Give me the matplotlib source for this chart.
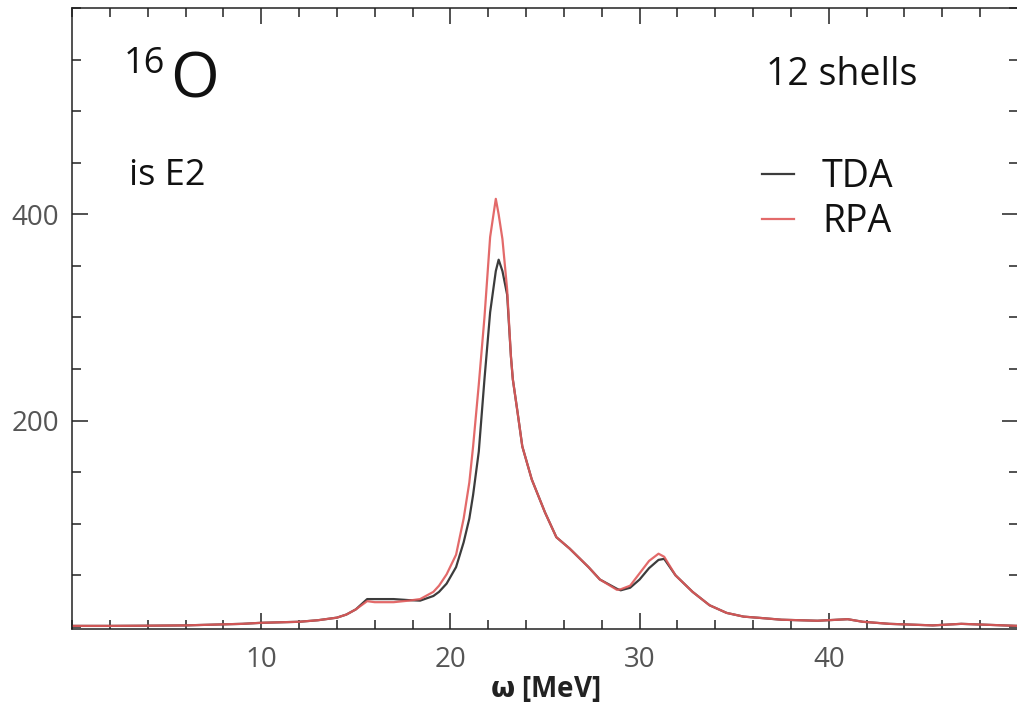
import numpy as np
import matplotlib.pyplot as plt
from matplotlib.ticker import MultipleLocator

plt.rcParams['font.family'] = ['Open Sans', 'DejaVu Sans']

# strength function of the isoscalar E2 response, 16O, 12 oscillator shells
omega = [0.0, 2.0, 4.0, 6.0, 7.0, 8.0, 9.0, 10.0, 11.0, 12.0, 13.0, 14.0,
         14.5, 15.0, 15.6, 16.0, 17.0, 17.8, 18.4, 19.1, 19.4, 19.8, 20.3,
         20.7, 21.0, 21.2, 21.5, 21.8, 22.1, 22.4, 22.55, 22.75, 23.0, 23.2,
         23.3, 23.55, 23.8, 24.3, 25.0, 25.6, 26.3, 27.3, 27.9, 28.8, 29.0,
         29.5, 30.0, 30.5, 31.0, 31.3, 31.9, 32.8, 33.7, 34.6, 35.5, 36.4,
         37.5, 39.4, 41.0, 41.8, 43.2, 45.5, 47.0, 50.0]
tda = [1.0, 1.0, 1.2, 1.5, 2.0, 2.5, 3.0, 4.0, 4.5, 5.0, 6.5, 9.0,
       12.0, 17.0, 27.0, 27.0, 27.0, 26.0, 25.5, 30.0, 34.0, 42.0, 58.0,
       82.0, 105.0, 128.0, 170.0, 240.0, 305.0, 345.0, 356.0, 345.0, 322.0, 262.0,
       240.0, 208.0, 175.0, 143.0, 111.0, 87.0, 76.0, 58.0, 46.0, 37.0, 35.5,
       38.0, 46.0, 57.0, 65.0, 66.0, 50.0, 34.0, 21.0, 13.6, 10.0, 8.7,
       7.0, 6.0, 7.5, 5.0, 3.0, 1.5, 3.0, 1.0]
rpa = [1.0, 1.0, 1.2, 1.5, 2.0, 2.5, 3.0, 4.0, 4.5, 5.0, 6.5, 9.0,
       12.0, 17.0, 25.0, 24.0, 24.0, 25.5, 27.0, 34.0, 40.0, 51.0, 70.0,
       105.0, 140.0, 175.0, 235.0, 300.0, 378.0, 415.0, 400.0, 376.0, 327.0, 262.0,
       240.0, 208.0, 175.0, 143.0, 111.0, 87.0, 76.0, 58.0, 46.0, 36.0, 36.5,
       40.0, 52.0, 64.0, 71.0, 68.0, 50.0, 34.0, 21.0, 13.6, 10.0, 8.7,
       7.0, 6.0, 7.5, 5.0, 3.0, 1.5, 3.0, 1.0]

W, H = 1017, 708
fig = plt.figure(figsize=(W / 100, H / 100), dpi=100)
ax = fig.add_axes([72 / W, 1 - 629 / H, (1018 - 72) / W, (629 - 8) / H])

ax.plot(omega, tda, color='#3c3c3c', lw=1.6, label='TDA')
ax.plot(omega, rpa, color='#e05a5a', lw=1.6, alpha=0.9, label='RPA')

ax.set_xlim(0, 50)
ax.set_ylim(-2, 600)
ax.xaxis.set_minor_locator(MultipleLocator(2))
ax.yaxis.set_minor_locator(MultipleLocator(50))
ax.set_yticks([200, 400])
ax.set_xticks([10, 20, 30, 40])

ax.tick_params(which='both', direction='in', top=True, right=True,
               width=1.1, color='#222222')
ax.tick_params(which='major', length=11.5, labelsize=20,
               labelcolor='#555555')
ax.tick_params(which='minor', length=6.5)
ax.tick_params(axis='x', which='major', pad=12)
ax.tick_params(axis='y', which='major', pad=9)
for side in ('left', 'bottom', 'top'):
    ax.spines[side].set_linewidth(1.1)
    ax.spines[side].set_color('#222222')
ax.spines['right'].set_visible(False)

ax.set_xlabel(r'$\mathbf{\omega}$ [MeV]', fontsize=20, fontweight='bold',
              color='#222222', labelpad=0)

# nucleus and settings labels
fig.text(124 / W, 1 - 73 / H, '16', fontsize=26, color='#111111')
fig.text(170 / W, 1 - 98 / H, 'O', fontsize=45, color='#111111')
fig.text(129 / W, 1 - 185 / H, 'is E2', fontsize=26, color='#111111')
fig.text(766 / W, 1 - 85 / H, '12 shells', fontsize=27, color='#111111')

leg = ax.legend(loc='upper left', bbox_to_anchor=(762 / W, 1 - 158 / H),
                bbox_transform=fig.transFigure, frameon=False, fontsize=27,
                handlelength=0.85, handletextpad=0.75, labelspacing=0.2,
                borderpad=0, borderaxespad=0)
for t in leg.get_texts():
    t.set_color('#111111')

fig.savefig('out.png', dpi=100, facecolor='white')
